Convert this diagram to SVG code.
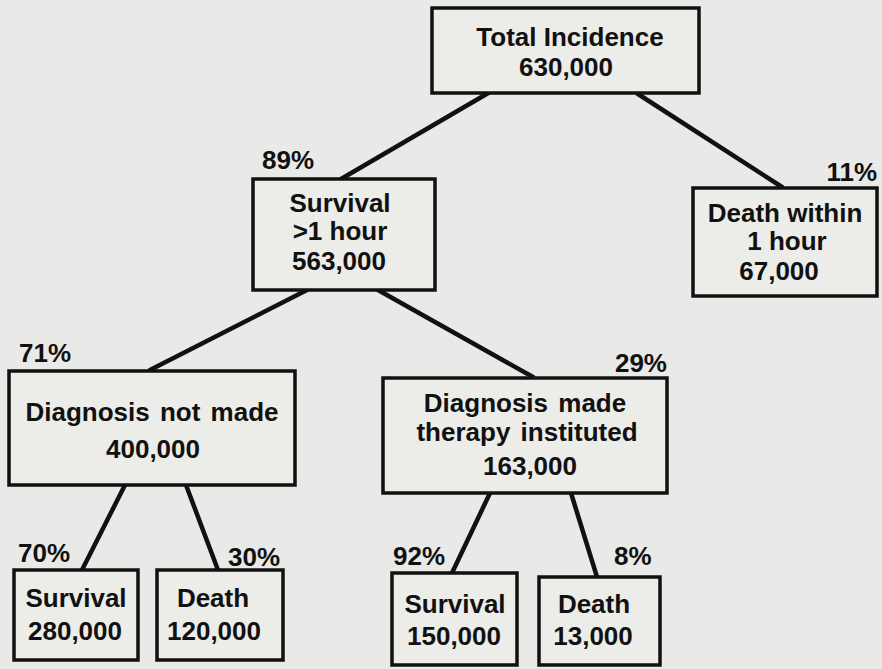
<svg xmlns="http://www.w3.org/2000/svg" width="882" height="669" viewBox="0 0 882 669">
<style>
.bg{fill:#e9e9e7}
.box{fill:#ecece9;stroke:#111;stroke-width:3.5}
.ln{stroke:#111;stroke-width:4.5;fill:none;stroke-linecap:round}
text{font-family:"Liberation Sans",Arial,sans-serif;font-weight:700;font-size:26px;fill:#111}
.c{text-anchor:middle}
.r{text-anchor:end}
</style>
<rect class="bg" x="0" y="0" width="882" height="669"/>
<g id="connectors">
<line class="ln" x1="490" y1="92" x2="341" y2="179"/>
<line class="ln" x1="638" y1="94" x2="782" y2="187"/>
<line class="ln" x1="307" y1="290" x2="150" y2="370"/>
<line class="ln" x1="378" y1="290" x2="533" y2="377"/>
<line class="ln" x1="125" y1="485" x2="82" y2="570"/>
<line class="ln" x1="186" y1="485" x2="218" y2="570"/>
<line class="ln" x1="490" y1="493" x2="452" y2="573"/>
<line class="ln" x1="571" y1="493" x2="597" y2="577"/>
</g>
<g id="total">
<rect class="box" x="432" y="8" width="267" height="85"/>
<text class="c" x="570" y="46">Total Incidence</text>
<text class="c" x="566" y="76">630,000</text>
</g>
<g id="survival1h">
<rect class="box" x="253" y="179" width="182" height="111"/>
<text class="c" x="340" y="212">Survival</text>
<text class="c" x="340" y="240">&gt;1 hour</text>
<text class="c" x="339" y="270">563,000</text>
<text x="262" y="169">89%</text>
</g>
<g id="death1h">
<rect class="box" x="693" y="188" width="184" height="108"/>
<text class="c" x="785" y="222">Death within</text>
<text class="c" x="787" y="250">1 hour</text>
<text class="c" x="779" y="280">67,000</text>
<text class="r" x="877" y="181">11%</text>
</g>
<g id="notmade">
<rect class="box" x="9" y="371" width="286" height="114"/>
<text class="c" x="152" y="421" word-spacing="3">Diagnosis not made</text>
<text class="c" x="153" y="458">400,000</text>
<text x="19" y="362">71%</text>
</g>
<g id="made">
<rect class="box" x="383" y="378" width="284" height="115"/>
<text class="c" x="525" y="412" word-spacing="3">Diagnosis made</text>
<text class="c" x="527" y="441" word-spacing="3">therapy instituted</text>
<text class="c" x="530" y="475">163,000</text>
<text class="r" x="667" y="372">29%</text>
</g>
<g id="surv1">
<rect class="box" x="14" y="570" width="124" height="90"/>
<text class="c" x="76" y="607">Survival</text>
<text class="c" x="75" y="640">280,000</text>
<text x="18" y="562">70%</text>
</g>
<g id="death1">
<rect class="box" x="157" y="570" width="126" height="90"/>
<text class="c" x="213" y="607">Death</text>
<text class="c" x="214" y="640">120,000</text>
<text x="228" y="566">30%</text>
</g>
<g id="surv2">
<rect class="box" x="392" y="573" width="125" height="92"/>
<text class="c" x="455" y="613">Survival</text>
<text class="c" x="454" y="645">150,000</text>
<text x="393" y="565">92%</text>
</g>
<g id="death2">
<rect class="box" x="539" y="577" width="121" height="88"/>
<text class="c" x="594" y="613">Death</text>
<text class="c" x="593" y="645">13,000</text>
<text x="614" y="565">8%</text>
</g>
</svg>
